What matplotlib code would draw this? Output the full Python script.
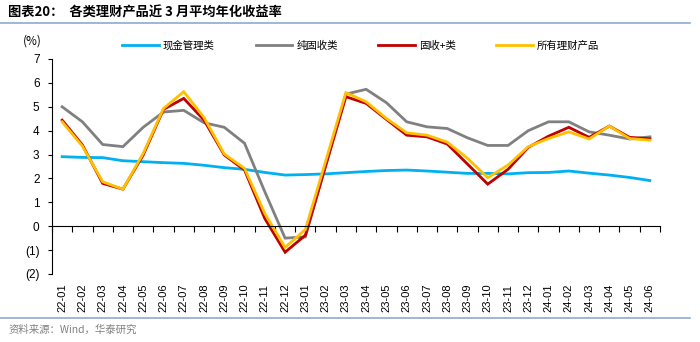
import numpy as np
import matplotlib.pyplot as plt
from matplotlib.lines import Line2D

plt.rcParams['font.family'] = ['Liberation Sans', 'Noto Sans CJK SC', 'DejaVu Sans']

# 月份
months = ['22-01', '22-02', '22-03', '22-04', '22-05', '22-06', '22-07', '22-08', '22-09', '22-10',
          '22-11', '22-12', '23-01', '23-02', '23-03', '23-04', '23-05', '23-06', '23-07', '23-08',
          '23-09', '23-10', '23-11', '23-12', '24-01', '24-02', '24-03', '24-04', '24-05', '24-06']

# 近3月平均年化收益率 (%)
cash_mgmt = [2.91, 2.88, 2.87, 2.74, 2.70, 2.66, 2.63, 2.55, 2.45, 2.38,
             2.25, 2.14, 2.16, 2.19, 2.24, 2.29, 2.33, 2.35, 2.31, 2.26,
             2.21, 2.21, 2.19, 2.24, 2.25, 2.31, 2.22, 2.14, 2.04, 1.91]
pure_fixed = [5.00, 4.37, 3.42, 3.33, 4.14, 4.78, 4.85, 4.33, 4.14, 3.47,
              1.44, -0.50, -0.45, 2.54, 5.53, 5.73, 5.17, 4.37, 4.16, 4.09,
              3.70, 3.38, 3.38, 4.00, 4.37, 4.37, 3.95, 3.81, 3.65, 3.74]
fixed_plus = [4.44, 3.40, 1.79, 1.55, 2.98, 4.89, 5.35, 4.44, 2.98, 2.35,
              0.32, -1.09, -0.38, 2.52, 5.42, 5.14, 4.47, 3.81, 3.74, 3.44,
              2.60, 1.76, 2.38, 3.30, 3.77, 4.14, 3.72, 4.19, 3.72, 3.66]
all_products = [4.37, 3.35, 1.86, 1.55, 3.05, 4.93, 5.63, 4.55, 3.02, 2.42,
                0.53, -0.89, -0.14, 2.72, 5.59, 5.21, 4.51, 3.91, 3.81, 3.52,
                2.84, 2.03, 2.56, 3.33, 3.67, 3.95, 3.65, 4.19, 3.67, 3.60]

series_names = ['现金管理类', '纯固收类', '固收+类', '所有理财产品']
series_colors = ['#00B0F0', '#808080', '#C00000', '#FFC000']

y_ticks = [7, 6, 5, 4, 3, 2, 1, 0, -1, -2]
y_tick_labels = ['7', '6', '5', '4', '3', '2', '1', '0', '(1)', '(2)']

fig = plt.figure(figsize=(7, 3.42), dpi=100)
ax = fig.add_axes([0.0743, 0.199, 0.8686, 0.6285])

x = np.arange(len(months))
for vals, name, c in zip([cash_mgmt, pure_fixed, fixed_plus, all_products], series_names, series_colors):
    ax.plot(x, vals, color=c, lw=2.0, label=name, solid_joinstyle='miter')

ax.set_xlim(-0.5, len(months) - 0.5)
ax.set_ylim(-2, 7)
ax.set_yticks(y_ticks)
ax.set_yticklabels(y_tick_labels, fontsize=8.5)
ax.tick_params(axis='y', direction='out', length=3, width=0.8, pad=6)

for s in ['top', 'right']:
    ax.spines[s].set_visible(False)
ax.spines['left'].set_linewidth(0.8)
ax.spines['bottom'].set_position(('data', 0))
ax.spines['bottom'].set_linewidth(0.8)
ax.set_xticks(np.arange(len(months) + 1) - 0.5)
ax.set_xticklabels([])
ax.tick_params(axis='x', direction='out', length=4, width=0.8)

# 月份标签放在底部
sec = ax.secondary_xaxis('bottom')
sec.set_xticks(x)
sec.set_xticklabels(months, rotation=90, fontsize=8)
sec.tick_params(length=0, pad=7)
sec.spines['bottom'].set_visible(False)

ax.text(-0.033, 1.083, '(%)', transform=ax.transAxes, fontsize=8.5, ha='center', va='center',
        family=['Noto Sans CJK SC', 'DejaVu Sans'])

ax.legend(loc='center', bbox_to_anchor=(0.508, 1.061), ncol=4, frameon=False,
          prop={'family': 'Noto Sans CJK SC', 'size': 7.5},
          handlelength=3.5, handletextpad=0.4, columnspacing=3.9)

fig.text(0.012, 0.965, '图表20：  各类理财产品近 3 月平均年化收益率', fontsize=9.5, fontweight='bold',
         ha='left', va='center', family=['Noto Sans CJK SC', 'DejaVu Sans'])
fig.add_artist(Line2D([0.0, 0.985], [0.932, 0.932], color='#8EA9CF', lw=1.2))
fig.add_artist(Line2D([0.0, 0.985], [0.07, 0.07], color='#8EA9CF', lw=1.2))
fig.text(0.012, 0.035, '资料来源：Wind，华泰研究', fontsize=7.5, color='#808080',
         ha='left', va='center', family=['Noto Sans CJK SC', 'DejaVu Sans'])

fig.savefig('out.png', dpi=100)
